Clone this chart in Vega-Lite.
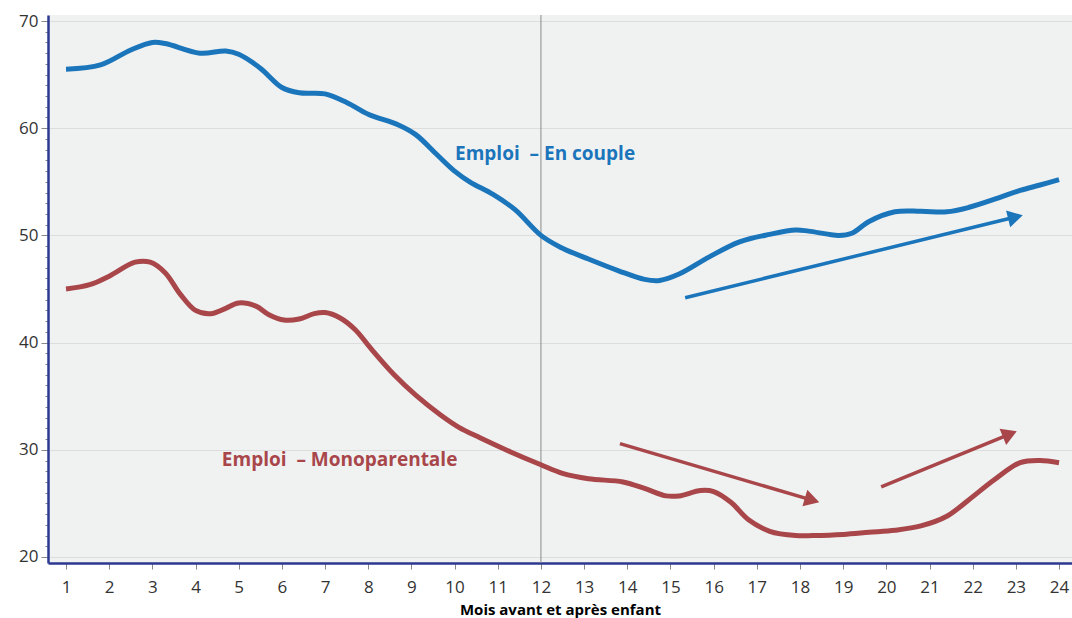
{
  "$schema": "https://vega.github.io/schema/vega-lite/v6.json",
  "width": 1024,
  "height": 548,
  "autosize": {"type": "none"},
  "padding": {"left": 48, "top": 15, "right": 0, "bottom": 55},
  "background": "#ffffff",
  "config": {
    "view": {"fill": "#f0f2f2", "stroke": null},
    "font": "Open Sans"
  },
  "datasets": {
    "lines": [
      {"serie": "En couple", "mois": 1.0, "emploi": 65.5},
      {"serie": "En couple", "mois": 1.8, "emploi": 65.9},
      {"serie": "En couple", "mois": 2.5, "emploi": 67.3},
      {"serie": "En couple", "mois": 3.0, "emploi": 68.0},
      {"serie": "En couple", "mois": 3.3, "emploi": 67.9},
      {"serie": "En couple", "mois": 4.1, "emploi": 67.0},
      {"serie": "En couple", "mois": 4.7, "emploi": 67.2},
      {"serie": "En couple", "mois": 5.0, "emploi": 66.9},
      {"serie": "En couple", "mois": 5.5, "emploi": 65.6},
      {"serie": "En couple", "mois": 6.0, "emploi": 63.8},
      {"serie": "En couple", "mois": 6.4, "emploi": 63.3},
      {"serie": "En couple", "mois": 7.0, "emploi": 63.2},
      {"serie": "En couple", "mois": 7.5, "emploi": 62.4},
      {"serie": "En couple", "mois": 8.0, "emploi": 61.3},
      {"serie": "En couple", "mois": 8.7, "emploi": 60.3},
      {"serie": "En couple", "mois": 9.1, "emploi": 59.4},
      {"serie": "En couple", "mois": 9.6, "emploi": 57.5},
      {"serie": "En couple", "mois": 10.0, "emploi": 56.0},
      {"serie": "En couple", "mois": 10.35, "emploi": 55.0},
      {"serie": "En couple", "mois": 10.9, "emploi": 53.8},
      {"serie": "En couple", "mois": 11.4, "emploi": 52.4},
      {"serie": "En couple", "mois": 12.0, "emploi": 50.0},
      {"serie": "En couple", "mois": 12.45, "emploi": 48.9},
      {"serie": "En couple", "mois": 13.1, "emploi": 47.8},
      {"serie": "En couple", "mois": 13.8, "emploi": 46.7},
      {"serie": "En couple", "mois": 14.4, "emploi": 45.9},
      {"serie": "En couple", "mois": 14.75, "emploi": 45.8},
      {"serie": "En couple", "mois": 15.2, "emploi": 46.4},
      {"serie": "En couple", "mois": 15.9, "emploi": 48.0},
      {"serie": "En couple", "mois": 16.6, "emploi": 49.4},
      {"serie": "En couple", "mois": 17.3, "emploi": 50.1},
      {"serie": "En couple", "mois": 17.9, "emploi": 50.5},
      {"serie": "En couple", "mois": 18.2, "emploi": 50.4},
      {"serie": "En couple", "mois": 18.9, "emploi": 50.0},
      {"serie": "En couple", "mois": 19.2, "emploi": 50.2},
      {"serie": "En couple", "mois": 19.6, "emploi": 51.3},
      {"serie": "En couple", "mois": 20.2, "emploi": 52.2},
      {"serie": "En couple", "mois": 20.8, "emploi": 52.25},
      {"serie": "En couple", "mois": 21.4, "emploi": 52.2},
      {"serie": "En couple", "mois": 21.9, "emploi": 52.6},
      {"serie": "En couple", "mois": 22.6, "emploi": 53.5},
      {"serie": "En couple", "mois": 23.1, "emploi": 54.2},
      {"serie": "En couple", "mois": 23.56, "emploi": 54.7},
      {"serie": "En couple", "mois": 24.0, "emploi": 55.2},
      {"serie": "Monoparentale", "mois": 1.0, "emploi": 45.0},
      {"serie": "Monoparentale", "mois": 1.55, "emploi": 45.4},
      {"serie": "Monoparentale", "mois": 2.0, "emploi": 46.2},
      {"serie": "Monoparentale", "mois": 2.6, "emploi": 47.5},
      {"serie": "Monoparentale", "mois": 2.95, "emploi": 47.5},
      {"serie": "Monoparentale", "mois": 3.3, "emploi": 46.5},
      {"serie": "Monoparentale", "mois": 3.65, "emploi": 44.5},
      {"serie": "Monoparentale", "mois": 4.0, "emploi": 43.0},
      {"serie": "Monoparentale", "mois": 4.35, "emploi": 42.7},
      {"serie": "Monoparentale", "mois": 4.7, "emploi": 43.2},
      {"serie": "Monoparentale", "mois": 5.0, "emploi": 43.7},
      {"serie": "Monoparentale", "mois": 5.4, "emploi": 43.4},
      {"serie": "Monoparentale", "mois": 5.7, "emploi": 42.6},
      {"serie": "Monoparentale", "mois": 6.05, "emploi": 42.1},
      {"serie": "Monoparentale", "mois": 6.4, "emploi": 42.2},
      {"serie": "Monoparentale", "mois": 6.75, "emploi": 42.7},
      {"serie": "Monoparentale", "mois": 7.0, "emploi": 42.8},
      {"serie": "Monoparentale", "mois": 7.35, "emploi": 42.3},
      {"serie": "Monoparentale", "mois": 7.7, "emploi": 41.2},
      {"serie": "Monoparentale", "mois": 8.05, "emploi": 39.5},
      {"serie": "Monoparentale", "mois": 8.6, "emploi": 37.0},
      {"serie": "Monoparentale", "mois": 9.1, "emploi": 35.1},
      {"serie": "Monoparentale", "mois": 9.66, "emploi": 33.3},
      {"serie": "Monoparentale", "mois": 10.1, "emploi": 32.1},
      {"serie": "Monoparentale", "mois": 10.6, "emploi": 31.1},
      {"serie": "Monoparentale", "mois": 11.3, "emploi": 29.8},
      {"serie": "Monoparentale", "mois": 12.0, "emploi": 28.6},
      {"serie": "Monoparentale", "mois": 12.5, "emploi": 27.8},
      {"serie": "Monoparentale", "mois": 13.1, "emploi": 27.3},
      {"serie": "Monoparentale", "mois": 13.9, "emploi": 27.0},
      {"serie": "Monoparentale", "mois": 14.4, "emploi": 26.4},
      {"serie": "Monoparentale", "mois": 14.9, "emploi": 25.7},
      {"serie": "Monoparentale", "mois": 15.2, "emploi": 25.7},
      {"serie": "Monoparentale", "mois": 15.7, "emploi": 26.2},
      {"serie": "Monoparentale", "mois": 16.0, "emploi": 26.1},
      {"serie": "Monoparentale", "mois": 16.4, "emploi": 25.1},
      {"serie": "Monoparentale", "mois": 16.8, "emploi": 23.5},
      {"serie": "Monoparentale", "mois": 17.3, "emploi": 22.4},
      {"serie": "Monoparentale", "mois": 17.9, "emploi": 22.0},
      {"serie": "Monoparentale", "mois": 18.3, "emploi": 22.0},
      {"serie": "Monoparentale", "mois": 19.0, "emploi": 22.1},
      {"serie": "Monoparentale", "mois": 19.6, "emploi": 22.3},
      {"serie": "Monoparentale", "mois": 20.2, "emploi": 22.5},
      {"serie": "Monoparentale", "mois": 20.8, "emploi": 22.9},
      {"serie": "Monoparentale", "mois": 21.4, "emploi": 23.8},
      {"serie": "Monoparentale", "mois": 21.9, "emploi": 25.3},
      {"serie": "Monoparentale", "mois": 22.5, "emploi": 27.2},
      {"serie": "Monoparentale", "mois": 23.1, "emploi": 28.8},
      {"serie": "Monoparentale", "mois": 23.56, "emploi": 29.0},
      {"serie": "Monoparentale", "mois": 24.0, "emploi": 28.8}
    ],
    "arrows": [
      {"id": "a1", "serie": "En couple", "mois": 15.34, "emploi": 44.19, "mois2": 22.99, "emploi2": 51.71},
      {"id": "a2", "serie": "Monoparentale", "mois": 13.83, "emploi": 30.58, "mois2": 18.28, "emploi2": 25.3},
      {"id": "a3", "serie": "Monoparentale", "mois": 19.88, "emploi": 26.54, "mois2": 22.86, "emploi2": 31.47}
    ],
    "labels": [
      {"serie": "En couple", "mois": 10.01, "emploi": 57.6, "texte": "Emploi\u00a0 – En couple"},
      {"serie": "Monoparentale", "mois": 4.61, "emploi": 29.05, "texte": "Emploi\u00a0 – Monoparentale"}
    ],
    "vline": [{"mois": 12}]
  },
  "encoding": {
    "x": {
      "field": "mois", "type": "quantitative",
      "scale": {"domain": [0.583, 24.3], "nice": false, "zero": false},
      "axis": {
        "title": "Mois avant et après enfant",
        "values": [1,2,3,4,5,6,7,8,9,10,11,12,13,14,15,16,17,18,19,20,21,22,23,24],
        "grid": false,
        "domainColor": "#2b3990", "domainWidth": 2.5,
        "tickColor": "#888888", "tickSize": 6, "tickWidth": 1,
        "labelFontSize": 17, "labelColor": "#333333", "labelPadding": 10,
        "titleFontSize": 15, "titleFontWeight": "bold", "titleColor": "#000000", "titlePadding": 7
      }
    },
    "y": {
      "field": "emploi", "type": "quantitative",
      "scale": {"domain": [19.44, 70.56], "nice": false, "zero": false},
      "axis": {
        "title": null,
        "values": [20,21,22,23,24,25,26,27,28,29,30,31,32,33,34,35,36,37,38,39,40,41,42,43,44,45,46,47,48,49,50,51,52,53,54,55,56,57,58,59,60,61,62,63,64,65,66,67,68,69,70],
        "labelExpr": "datum.value % 10 === 0 ? datum.value : ''",
        "grid": true,
        "gridColor": "#dddddd",
        "gridOpacity": {"condition": {"test": "datum.value % 10 === 0", "value": 1}, "value": 0},
        "tickSize": {"condition": {"test": "datum.value % 10 === 0", "value": 7}, "value": 3},
        "domainColor": "#2b3990", "domainWidth": 2.5,
        "tickColor": "#888888", "tickWidth": 1,
        "labelFontSize": 17, "labelColor": "#333333", "labelPadding": 3
      }
    },
    "color": {
      "field": "serie", "type": "nominal",
      "scale": {"domain": ["En couple", "Monoparentale"], "range": ["#1b75bb", "#a8464a"]},
      "legend": null
    }
  },
  "layer": [
    {
      "data": {"name": "vline"},
      "mark": {"type": "rule", "color": "#8a8a8a", "strokeWidth": 1},
      "encoding": {"x": {"field": "mois", "type": "quantitative"}, "y": null, "color": null}
    },
    {
      "data": {"name": "lines"},
      "mark": {"type": "line", "strokeWidth": 5, "interpolate": "catmull-rom"}
    },
    {
      "data": {"name": "arrows"},
      "mark": {"type": "rule", "strokeWidth": 3.5},
      "encoding": {
        "x2": {"field": "mois2"},
        "y2": {"field": "emploi2"}
      }
    },
    {
      "data": {"name": "arrows"},
      "transform": [{"filter": "datum.id === 'a1'"}],
      "mark": {"type": "point", "shape": "triangle-up", "filled": true, "opacity": 1, "size": 300, "angle": 76.3},
      "encoding": {"x": {"field": "mois2", "type": "quantitative"}, "y": {"field": "emploi2", "type": "quantitative"}}
    },
    {
      "data": {"name": "arrows"},
      "transform": [{"filter": "datum.id === 'a2'"}],
      "mark": {"type": "point", "shape": "triangle-up", "filled": true, "opacity": 1, "size": 300, "angle": 106.4},
      "encoding": {"x": {"field": "mois2", "type": "quantitative"}, "y": {"field": "emploi2", "type": "quantitative"}}
    },
    {
      "data": {"name": "arrows"},
      "transform": [{"filter": "datum.id === 'a3'"}],
      "mark": {"type": "point", "shape": "triangle-up", "filled": true, "opacity": 1, "size": 300, "angle": 67.7},
      "encoding": {"x": {"field": "mois2", "type": "quantitative"}, "y": {"field": "emploi2", "type": "quantitative"}}
    },
    {
      "data": {"name": "labels"},
      "mark": {"type": "text", "align": "left", "baseline": "middle", "fontSize": 19, "fontWeight": "bold"},
      "encoding": {"text": {"field": "texte"}}
    }
  ]
}
